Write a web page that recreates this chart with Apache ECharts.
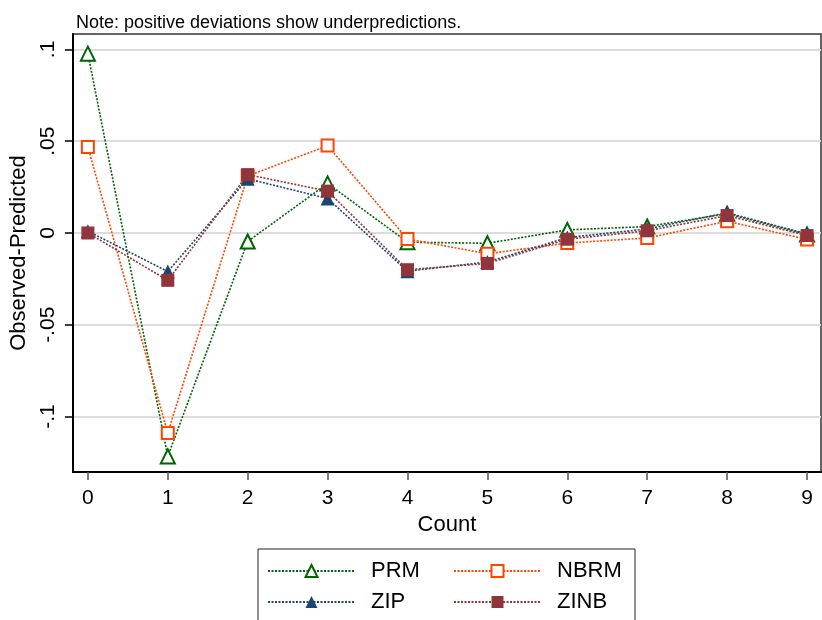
<!DOCTYPE html>
<html>
<head>
<meta charset="utf-8">
<script src="https://cdn.jsdelivr.net/npm/echarts@6/dist/echarts.min.js"></script>
<style>
  html, body { margin: 0; padding: 0; background: #fff; }
  #chart { width: 822px; height: 620px; }
</style>
</head>
<body>
<div id="chart"></div>
<script>
// counts on the x axis
var counts = [0, 1, 2, 3, 4, 5, 6, 7, 8, 9]
// observed - predicted
var prm = [0.0977, -0.1217, -0.0046, 0.0270, -0.0050, -0.0056, 0.0017, 0.0035, 0.0105, -0.0008]
var nbrm = [0.0469, -0.1090, 0.0310, 0.0476, -0.0033, -0.0113, -0.0055, -0.0027, 0.0064, -0.0035]
var zip = [0.0010, -0.0210, 0.0295, 0.0188, -0.0208, -0.0158, -0.0025, 0.0022, 0.0110, -0.0005]
var zinb = [0.0000, -0.0258, 0.0318, 0.0228, -0.0200, -0.0166, -0.0034, 0.0012, 0.0095, -0.0014]
// y tick values and their Stata-style labels
var yTicks = [-0.1, -0.05, 0, 0.05, 0.1]
var yTickLabels = ['-.1', '-.05', '0', '.05', '.1']

var font = "'Liberation Sans', Arial, sans-serif"

function pairs(vals) {
  return counts.map(function (c, i) { return [c, vals[i]] })
}

function makeSeries(name, vals, color, symbol, size, hollow) {
  return {
    name: name,
    type: 'line',
    data: pairs(vals),
    symbol: symbol,
    symbolSize: size,
    showAllSymbol: true,
    lineStyle: { color: color, width: 1.6, type: [2, 1.5] },
    itemStyle: { color: color, borderWidth: hollow ? 2 : 0 },
    emphasis: { disabled: true }
  }
}

var chart = echarts.init(document.getElementById('chart'))

var option = {
  animation: false,
  backgroundColor: '#fff',
  title: {
    text: 'Note: positive deviations show underpredictions.',
    left: 71,
    top: 9,
    textStyle: { fontFamily: font, fontSize: 18, fontWeight: 'normal', color: '#000' }
  },
  grid: {
    left: 72,
    top: 34,
    right: 1,
    bottom: 148,
    show: true,
    borderColor: '#333',
    borderWidth: 1.5
  },
  xAxis: {
    type: 'value',
    min: -0.1875,
    max: 9.175,
    name: 'Count',
    nameLocation: 'middle',
    nameGap: 40,
    nameTextStyle: { fontFamily: font, fontSize: 22, color: '#000' },
    axisLine: { show: true, onZero: false, lineStyle: { color: '#000', width: 2 } },
    axisTick: { show: true, length: 8, customValues: counts, lineStyle: { color: '#555', width: 1.5 } },
    axisLabel: { customValues: counts, margin: 16, fontFamily: font, fontSize: 21, color: '#000' },
    splitLine: { show: false }
  },
  yAxis: {
    type: 'value',
    min: -0.1302,
    max: 0.1084,
    name: 'Observed-Predicted',
    nameLocation: 'middle',
    nameGap: 33,
    nameTextStyle: { fontFamily: font, fontSize: 22, color: '#000' },
    axisLine: { show: true, onZero: false, lineStyle: { color: '#000', width: 2 } },
    axisTick: { show: true, length: 8, customValues: yTicks, lineStyle: { color: '#000', width: 1.5 } },
    axisLabel: {
      customValues: yTicks,
      rotate: 90,
      margin: 14,
      fontFamily: font,
      fontSize: 21,
      color: '#000',
      formatter: function (v) {
        var best = 0
        for (var i = 1; i < yTicks.length; i++) {
          if (Math.abs(yTicks[i] - v) < Math.abs(yTicks[best] - v)) best = i
        }
        return yTickLabels[best]
      }
    },
    splitLine: { show: true, lineStyle: { color: '#dcdcdc', width: 2 } }
  },
  legend: {
    data: ['PRM', 'NBRM', 'ZIP', 'ZINB'],
    orient: 'horizontal',
    left: 258,
    top: 549,
    width: 376,
    padding: [10, 3, 10, 9],
    itemGap: 7,
    itemWidth: 87,
    itemHeight: 15,
    borderColor: '#222',
    borderWidth: 1,
    backgroundColor: '#fff',
    textStyle: {
      fontFamily: font,
      fontSize: 22,
      lineHeight: 24,
      color: '#000',
      width: 75,
      padding: [0, 0, 0, 11]
    }
  },
  series: [
    makeSeries('PRM', prm, '#006400', 'emptyTriangle', 14, true),
    makeSeries('NBRM', nbrm, '#ff4500', 'emptyRect', 12, true),
    makeSeries('ZIP', zip, '#1a476f', 'triangle', 14, false),
    makeSeries('ZINB', zinb, '#90353b', 'rect', 13, false)
  ]
}

chart.setOption(option)
</script>
</body>
</html>
